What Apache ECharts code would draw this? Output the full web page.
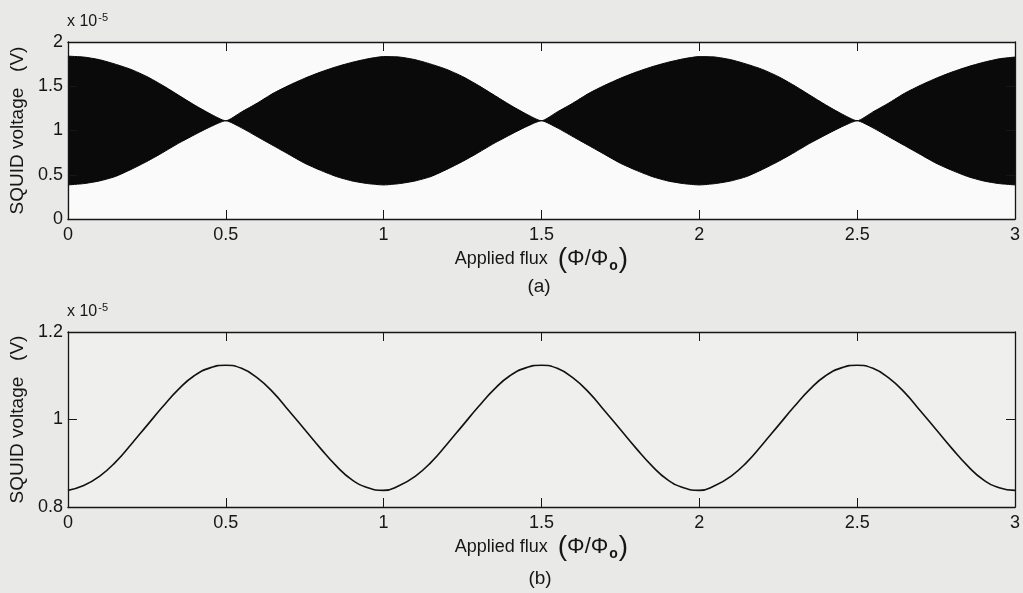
<!DOCTYPE html>
<html><head><meta charset="utf-8">
<script src="https://cdn.jsdelivr.net/npm/echarts@6/dist/echarts.min.js"></script>
<style>html,body{margin:0;padding:0;background:#e9e9e7;}#c{width:1023px;height:593px;}</style>
</head><body><div id="c"></div>
<script>
// Applied flux (Phi/Phi0) sample positions
const flux = [0,0.05,0.1,0.15,0.2,0.25,0.3,0.35,0.4,0.45,0.5,0.55,0.6,0.65,0.7,0.75,0.8,0.85,0.9,0.95,
  1,1.05,1.1,1.15,1.2,1.25,1.3,1.35,1.4,1.45,1.5,1.55,1.6,1.65,1.7,1.75,1.8,1.85,1.9,1.95,
  2,2.05,2.1,2.15,2.2,2.25,2.3,2.35,2.4,2.45,2.5,2.55,2.6,2.65,2.7,2.75,2.8,2.85,2.9,2.95,3];
// (a) upper / lower envelope of the oscillating SQUID voltage, units of 1e-5 V
const upperEnvelope = [1.84,1.83,1.80,1.75,1.69,1.61,1.51,1.40,1.29,1.19,1.11,1.21,1.31,1.42,1.51,1.59,1.66,1.72,1.77,1.81,
  1.835,1.83,1.80,1.75,1.69,1.61,1.51,1.40,1.29,1.19,1.11,1.21,1.31,1.42,1.51,1.59,1.66,1.72,1.77,1.81,
  1.835,1.83,1.80,1.75,1.69,1.61,1.51,1.40,1.29,1.19,1.11,1.21,1.31,1.42,1.51,1.59,1.66,1.72,1.77,1.81,1.83];
const lowerEnvelope = [0.385,0.40,0.43,0.48,0.56,0.65,0.75,0.855,0.95,1.04,1.11,1.03,0.93,0.83,0.73,0.63,0.55,0.48,0.43,0.40,
  0.385,0.40,0.43,0.48,0.56,0.65,0.75,0.855,0.95,1.04,1.11,1.03,0.93,0.83,0.73,0.63,0.55,0.48,0.43,0.40,
  0.385,0.40,0.43,0.48,0.56,0.65,0.75,0.855,0.95,1.04,1.11,1.03,0.93,0.83,0.73,0.63,0.55,0.48,0.43,0.40,0.385];
// (b) averaged SQUID voltage, units of 1e-5 V
const averageVoltage = [0.838,0.849,0.870,0.902,0.943,0.986,1.029,1.069,1.100,1.118,1.124,1.117,1.095,1.062,1.020,0.977,0.934,0.894,0.862,0.844,
  0.838,0.849,0.870,0.902,0.943,0.986,1.029,1.069,1.100,1.118,1.124,1.117,1.095,1.062,1.020,0.977,0.934,0.894,0.862,0.844,
  0.838,0.849,0.870,0.902,0.943,0.986,1.029,1.069,1.100,1.118,1.124,1.117,1.095,1.062,1.020,0.977,0.934,0.894,0.862,0.844,0.838];

const FONT = 'Liberation Sans, Arial, sans-serif';
const INK = '#161616';
const TOP_BG = '#fafafa';
const chart = echarts.init(document.getElementById('c'));

function xAxes(gi) {
  const base = {gridIndex: gi, type: 'value', min: 0, max: 3, interval: 0.5, z: 10,
    axisLine: {show: true, onZero: false, lineStyle: {color: INK, width: 1.3}}, splitLine: {show: false},
    axisTick: {inside: true, length: 9, lineStyle: {color: INK, width: 1}}};
  return [
    Object.assign({}, base, {position: 'bottom',
      axisLabel: {color: INK, fontSize: 18, fontFamily: FONT, margin: 7},
      name: 'Applied flux  {p|(}{f|Φ/Φ}{s|o}{p|)}', nameLocation: 'middle', nameGap: 26,
      nameTextStyle: {color: INK, fontSize: 18, fontFamily: FONT,
        rich: {p: {fontSize: 28, fontFamily: FONT, color: INK},
               f: {fontSize: 22, fontFamily: FONT, color: INK},
               s: {fontSize: 14, fontWeight: 'bold', fontFamily: FONT, color: INK, verticalAlign: 'bottom', padding: [10, 1, 0, 1]}}}}),
    Object.assign({}, base, {position: 'top', axisLabel: {show: false}})
  ];
}
function yAxes(gi, min, max, interval) {
  const base = {gridIndex: gi, type: 'value', min: min, max: max, interval: interval, z: 10,
    axisLine: {show: true, onZero: false, lineStyle: {color: INK, width: 1.3}}, splitLine: {show: false},
    axisTick: {inside: true, length: 9, lineStyle: {color: INK, width: 1}}};
  return [
    Object.assign({}, base, {position: 'left',
      axisLabel: {color: INK, fontSize: 18, fontFamily: FONT, margin: 5, formatter: v => String(+v.toFixed(1))},
      name: 'SQUID voltage   (V)', nameLocation: 'middle', nameGap: 33,
      nameTextStyle: {color: INK, fontSize: 19, fontFamily: FONT}}),
    Object.assign({}, base, {position: 'right', axisLabel: {show: false}})
  ];
}

const upperPts = flux.map((x, i) => [x, upperEnvelope[i]]);
const lowerPts = flux.map((x, i) => [x, lowerEnvelope[i]]);
const avgPts = flux.map((x, i) => [x, averageVoltage[i]]);

chart.setOption({
  animation: false,
  backgroundColor: '#e9e9e7',
  grid: [
    {left: 66, top: 42, width: 953, height: 177, show: true, backgroundColor: TOP_BG, borderWidth: 0},
    {left: 66, top: 332, width: 952, height: 175, show: true, backgroundColor: '#efefed', borderWidth: 0}
  ],
  xAxis: xAxes(0).concat(xAxes(1)),
  yAxis: yAxes(0, 0, 2, 0.5).concat(yAxes(1, 0.8, 1.2, 0.2)),
  series: [
    {type: 'line', xAxisIndex: 0, yAxisIndex: 0, data: upperPts, symbol: 'none', smooth: 0.2,
      lineStyle: {color: '#050505', width: 1}, areaStyle: {color: '#0a0a0a', opacity: 1, origin: 'start'}},
    {type: 'line', xAxisIndex: 0, yAxisIndex: 0, data: lowerPts, symbol: 'none', smooth: 0.2,
      lineStyle: {color: '#050505', width: 1}, areaStyle: {color: TOP_BG, opacity: 1, origin: 'start'}},
    {type: 'line', xAxisIndex: 2, yAxisIndex: 2, data: avgPts, symbol: 'none', smooth: 0.5,
      lineStyle: {color: '#111', width: 1.6}}
  ],
  graphic: [
    {type: 'text', left: 67, top: 12, style: {text: 'x 10{sup|-5}', fill: INK, font: '16px ' + FONT,
      rich: {sup: {fontSize: 11, fontFamily: FONT, fill: INK, verticalAlign: 'top', padding: [0, 0, 8, 1]}}}},
    {type: 'text', left: 67, top: 302, style: {text: 'x 10{sup|-5}', fill: INK, font: '16px ' + FONT,
      rich: {sup: {fontSize: 11, fontFamily: FONT, fill: INK, verticalAlign: 'top', padding: [0, 0, 8, 1]}}}},
    {type: 'text', x: 539, y: 287, style: {text: '(a)', fill: INK, font: '19px ' + FONT, align: 'center', verticalAlign: 'middle'}},
    {type: 'text', x: 540, y: 579, style: {text: '(b)', fill: INK, font: '19px ' + FONT, align: 'center', verticalAlign: 'middle'}}
  ]
});
</script></body></html>
